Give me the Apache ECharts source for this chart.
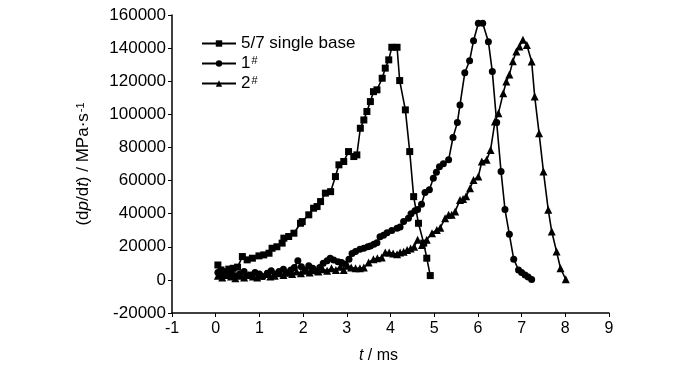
<!DOCTYPE html>
<html>
<head>
<meta charset="utf-8">
<script src="https://cdn.jsdelivr.net/npm/echarts@6/dist/echarts.min.js"></script>
<style>html,body{margin:0;padding:0;background:#fff;}#c{width:700px;height:373px;}</style>
</head>
<body>
<div id="c"></div>
<script>
// 5/7 single base
var t57 = [0.05,0.12,0.2,0.3,0.4,0.5,0.61,0.72,0.84,0.99,1.1,1.22,1.29,1.4,1.52,1.56,1.67,1.79,1.94,1.98,2.13,2.24,2.32,2.4,2.51,2.63,2.74,2.82,2.93,3.04,3.16,3.23,3.31,3.39,3.46,3.54,3.61,3.69,3.81,3.88,3.96,4.03,4.15,4.21,4.34,4.44,4.53,4.64,4.76,4.83,4.91];
var v57 = [9000,6000,4500,6500,7000,7700,14100,12100,13100,14500,15100,16100,19100,20000,22200,25200,26200,28200,34200,35200,39300,43300,44300,47300,52400,53300,62400,69500,71500,77500,74500,75500,91600,96600,101700,107700,113700,114800,121800,127900,132900,140500,140500,120400,102700,77500,50300,34200,22200,13100,2600];
// 1#
var t1 = [0.05,0.12,0.2,0.28,0.36,0.45,0.55,0.65,0.72,0.8,0.9,1.0,1.08,1.18,1.27,1.36,1.45,1.55,1.63,1.72,1.8,1.88,1.96,2.05,2.13,2.22,2.3,2.38,2.46,2.55,2.62,2.7,2.8,2.88,2.96,3.05,3.12,3.2,3.3,3.39,3.48,3.54,3.62,3.69,3.76,3.84,3.92,4.03,4.15,4.22,4.3,4.41,4.47,4.56,4.62,4.71,4.79,4.89,4.98,5.05,5.12,5.21,5.33,5.43,5.53,5.59,5.7,5.81,5.9,6.01,6.11,6.24,6.33,6.43,6.53,6.62,6.72,6.82,6.93,7.0,7.08,7.15,7.23];
var v1 = [4500,2500,5000,3000,4000,2500,3500,5000,2500,3000,4500,3500,2000,4000,5500,3500,5000,6500,4000,6000,7500,11500,8000,6000,8500,7000,5000,7500,10000,11500,13000,12000,11000,10500,9500,12500,16000,17100,18500,19100,20000,20500,21500,22500,26000,27000,28500,29800,31200,32000,35200,37300,40000,41700,42500,45700,52800,54400,61400,65000,68400,70100,72500,86000,95000,105700,125100,132400,144400,155000,155000,143900,125800,95000,65400,42500,27500,12500,6000,4500,3000,1800,300];
// 2#
var t2 = [0.05,0.15,0.25,0.35,0.45,0.55,0.65,0.75,0.85,0.95,1.05,1.15,1.25,1.35,1.45,1.55,1.65,1.75,1.85,1.95,2.05,2.15,2.25,2.35,2.45,2.55,2.65,2.75,2.85,2.93,3.02,3.1,3.2,3.3,3.39,3.5,3.61,3.7,3.8,3.88,3.97,4.06,4.15,4.22,4.3,4.38,4.46,4.54,4.62,4.72,4.83,4.95,5.06,5.14,5.25,5.33,5.4,5.48,5.59,5.66,5.73,5.82,5.9,6.01,6.09,6.2,6.29,6.39,6.47,6.58,6.65,6.72,6.8,6.88,6.95,7.03,7.12,7.23,7.3,7.4,7.5,7.61,7.69,7.8,7.89,8.01];
var v2 = [2500,1500,3000,2000,1000,2500,1500,3000,2000,1500,2500,3500,2000,2500,4000,3000,4500,3500,5000,4000,5500,4500,6000,5000,6500,5500,7000,6000,8000,6000,8500,7500,7000,7000,7500,10500,12500,13000,13500,16500,16500,16000,15500,16500,17000,18000,19000,20000,24200,21100,24200,28200,30200,31500,37300,39300,39300,41300,48300,48800,50500,55400,60400,62400,71500,72500,78500,95600,100700,112800,119800,124000,132000,138000,141000,145000,141900,131900,110700,88600,65400,42300,29200,17100,7000,400];

var seriesNames = ['5/7 single base', '1#', '2#'];
var xMin = -1, xMax = 9, xStep = 1;
var yMin = -20000, yMax = 160000, yStep = 20000;

function zip(a, b) { return a.map(function (x, i) { return [x, b[i]]; }); }

var FONT = 'Liberation Sans';
var chart = echarts.init(document.getElementById('c'), null, {renderer: 'canvas'});

function mkSeries(name, t, v, symbol, size) {
  return {
    name: name, type: 'line', data: zip(t, v),
    symbol: symbol, symbolSize: size, showSymbol: true,
    lineStyle: {color: '#000', width: 1.6},
    itemStyle: {color: '#000'},
    animation: false
  };
}

chart.setOption({
  backgroundColor: '#fff',
  animation: false,
  grid: {left: 172, right: 91, top: 15, bottom: 60, containLabel: false},
  legend: {
    orient: 'vertical', left: 196, top: 30,
    itemWidth: 34, itemHeight: 8, itemGap: 3,
    data: seriesNames,
    formatter: function (n) {
      if (n === '1#') return '1{sup|#}';
      if (n === '2#') return '2{sup|#}';
      return n;
    },
    textStyle: {
      fontFamily: FONT, fontSize: 17, color: '#000', padding: [0, 0, 0, 0],
      rich: {sup: {fontFamily: FONT, fontSize: 11, color: '#000', verticalAlign: 'top', lineHeight: 10, padding: [0,0,6,1]}}
    }
  },
  xAxis: {
    type: 'value', min: xMin, max: xMax, interval: xStep,
    name: '{i|t} / ms', nameLocation: 'middle', nameGap: 35,
    nameTextStyle: {fontFamily: FONT, fontSize: 16, color: '#000', padding: [0, 24, 0, 0],
      rich: {i: {fontFamily: FONT, fontSize: 16, fontStyle: 'italic', color: '#000'}}},
    axisLine: {onZero: false, lineStyle: {color: '#000', width: 1.5}},
    axisTick: {show: true, length: 4, lineStyle: {color: '#000', width: 1}},
    axisLabel: {fontFamily: FONT, fontSize: 16, color: '#000', margin: 8},
    splitLine: {show: false}
  },
  yAxis: {
    type: 'value', min: yMin, max: yMax, interval: yStep,
    name: '(d{i|p}/d{i|t}) / MPa·s{sup|-1}', nameLocation: 'middle', nameGap: 80,
    nameRotate: 90,
    nameTextStyle: {fontFamily: FONT, fontSize: 17, color: '#000',
      rich: {
        i: {fontFamily: FONT, fontSize: 17, fontStyle: 'italic', color: '#000'},
        sup: {fontFamily: FONT, fontSize: 11, color: '#000', verticalAlign: 'top', lineHeight: 10, padding: [0,0,6,1]}
      }},
    axisLine: {show: true, onZero: false, lineStyle: {color: '#000', width: 1.5}},
    axisTick: {show: true, length: 4, lineStyle: {color: '#000', width: 1}},
    axisLabel: {fontFamily: FONT, fontSize: 17, color: '#000', margin: 6,
      formatter: function (v) { return String(v); }},
    splitLine: {show: false}
  },
  series: [
    mkSeries(seriesNames[0], t57, v57, 'rect', 7),
    mkSeries(seriesNames[1], t1, v1, 'circle', 7),
    mkSeries(seriesNames[2], t2, v2, 'triangle', 8)
  ]
});
</script>
</body>
</html>
